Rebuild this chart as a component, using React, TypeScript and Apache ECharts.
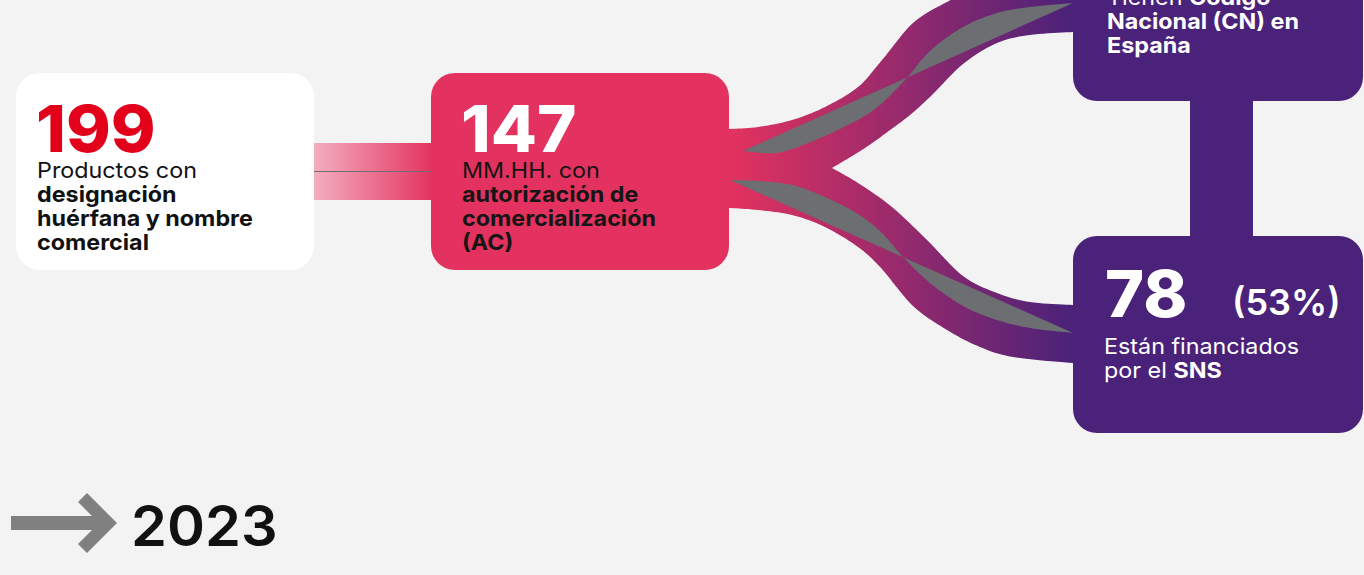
import React, { useEffect, useRef } from 'react';
import * as echarts from 'echarts';

// ---- data ----
const stageValues = [199, 147, 78];
const stageTexts = [
  '{r|Productos con}\n{b|designación}\n{b|huérfana y nombre}\n{b|comercial}',
  '{r|MM.HH. con}\n{b|autorización de}\n{b|comercialización}\n{b|(AC)}',
  '{r|Están financiados}\n{r|por el }{b|SNS}',
];
const cnText = '{r|Tienen }{b|Código}\n{b|Nacional (CN) en}\n{b|España}';
const yearLabel = '2023';

const FONT = 'Inter, "Noto Sans", sans-serif';
const PINK = '#e3325f';
const PURPLE = '#4a2279';
const GREY = '#6d6e71';

type P = [number, number];

// Catmull-Rom smoothing of a guide outline (decorative ribbon shape)
function smooth(pts: P[], steps = 10): P[] {
  const out: P[] = [];
  for (let i = 0; i < pts.length - 1; i++) {
    const p0 = pts[Math.max(0, i - 1)];
    const p1 = pts[i];
    const p2 = pts[i + 1];
    const p3 = pts[Math.min(pts.length - 1, i + 2)];
    for (let s = 0; s < steps; s++) {
      const t = s / steps, t2 = t * t, t3 = t2 * t;
      const f = (a: number, b: number, c: number, d: number) =>
        0.5 * (2 * b + (-a + c) * t + (2 * a - 5 * b + 4 * c - d) * t2 + (-a + 3 * b - 3 * c + d) * t3);
      out.push([f(p0[0], p1[0], p2[0], p3[0]), f(p0[1], p1[1], p2[1], p3[1])]);
    }
  }
  out.push(pts[pts.length - 1]);
  return out;
}

// ribbon guide outlines
const upperTopEdge: P[] = [[720, 129], [729, 129], [758, 127], [792, 120], [825, 107], [858, 87], [882, 60], [913, 23], [947, 2], [985, -15], [1030, -23], [1085, -25]];
const upperBotEdge: P[] = [[1085, 32], [1073, 32], [1030, 35], [997, 43], [963, 64], [932, 95], [910, 115], [890, 130], [865, 148], [832, 168]];
const lowerTopEdge: P[] = [[832, 168], [858, 183], [892, 207], [927, 240], [963, 276], [997, 293], [1030, 302], [1073, 305], [1085, 305]];
const lowerBotEdge: P[] = [[1085, 363], [1073, 363], [1013, 357], [980, 347], [947, 330], [913, 306], [881, 268], [858, 247], [825, 227], [792, 215], [758, 210], [729, 208], [720, 208]];
const upperTwist: P[] = [[743, 151], [777, 153], [808, 143], [842, 128], [875, 109], [905, 80], [930, 51], [963, 27], [997, 13], [1030, 7], [1073, 3]];
const lowerTwist: P[] = [[730, 180], [758, 181], [792, 185], [825, 197], [858, 214], [882, 233], [903, 257], [930, 283], [963, 306], [997, 320], [1030, 328], [1073, 333]];

function richStyles(color: string) {
  return {
    r: { fontFamily: FONT, fontSize: 22, fontWeight: 400, fill: color, lineHeight: 24 },
    b: { fontFamily: FONT, fontSize: 22, fontWeight: 700, fill: color, lineHeight: 24 },
  };
}

export default function App() {
  const ref = useRef<HTMLDivElement>(null);
  useEffect(() => {
    if (!ref.current) return;
    const chart = echarts.init(ref.current, undefined, { renderer: 'svg' });

    const ribbon: P[] = [
      ...smooth(upperTopEdge),
      ...smooth(upperBotEdge),
      ...smooth(lowerTopEdge),
      ...smooth(lowerBotEdge),
    ];
    const upLens: P[] = [...smooth(upperTwist), upperTwist[0]];
    const loLens: P[] = [...smooth(lowerTwist), lowerTwist[0]];

    const share = Math.round((stageValues[2] / stageValues[1]) * 100);
    const SX = 1.06;

    const elements: any[] = [
      // left box
      { type: 'rect', shape: { x: 16, y: 73, width: 298, height: 197, r: 24 }, style: { fill: '#ffffff' } },
      {
        type: 'rect',
        shape: { x: 314, y: 143, width: 120, height: 57 },
        style: {
          fill: new echarts.graphic.LinearGradient(0, 0, 1, 0, [
            { offset: 0, color: '#f4adbf' },
            { offset: 1, color: PINK },
          ]),
        },
      },
      { type: 'line', shape: { x1: 314, y1: 171.5, x2: 431, y2: 171.5 }, style: { stroke: GREY, lineWidth: 1 } },
      // ribbons
      {
        type: 'polygon',
        shape: { points: ribbon },
        style: {
          fill: new echarts.graphic.LinearGradient(729, 0, 1073, 0, [
            { offset: 0, color: PINK },
            { offset: 1, color: PURPLE },
          ], true),
        },
      },
      { type: 'polygon', shape: { points: upLens }, style: { fill: GREY } },
      { type: 'polygon', shape: { points: loLens }, style: { fill: GREY } },
      // middle box
      { type: 'rect', shape: { x: 431, y: 73, width: 298, height: 197, r: 24 }, style: { fill: PINK } },
      // purple boxes
      { type: 'rect', shape: { x: 1190, y: 95, width: 63, height: 146 }, style: { fill: PURPLE } },
      { type: 'rect', shape: { x: 1073, y: -96, width: 290, height: 197, r: 24 }, style: { fill: PURPLE } },
      { type: 'rect', shape: { x: 1073, y: 236, width: 290, height: 197, r: 24 }, style: { fill: PURPLE } },
      // numbers
      {
        type: 'text', x: 36, y: 128.8, scaleX: 1.06,
        style: { text: String(stageValues[0]), fontFamily: FONT, fontSize: 64, fontWeight: 800, fill: '#e2001a', verticalAlign: 'middle' },
      },
      {
        type: 'text', x: 461, y: 128.8, scaleX: 1.05,
        style: { text: String(stageValues[1]), fontFamily: FONT, fontSize: 64, fontWeight: 800, fill: '#ffffff', verticalAlign: 'middle' },
      },
      {
        type: 'text', x: 1105, y: 293.5, scaleX: 1.04,
        style: { text: String(stageValues[2]), fontFamily: FONT, fontSize: 64, fontWeight: 800, fill: '#ffffff', verticalAlign: 'middle' },
      },
      {
        type: 'text', x: 1232, y: 302.2,
        style: { text: `(${share}%)`, fontFamily: FONT, fontSize: 36, fontWeight: 600, fill: '#ffffff', verticalAlign: 'middle' },
      },
      // descriptions
      { type: 'text', x: 37, y: 157.4, scaleX: SX, style: { text: stageTexts[0], rich: richStyles('#111111'), verticalAlign: 'top' } },
      { type: 'text', x: 462, y: 157.4, scaleX: SX, style: { text: stageTexts[1], rich: richStyles('#151515'), verticalAlign: 'top' } },
      { type: 'text', x: 1104, y: 334, scaleX: SX, style: { text: stageTexts[2], rich: richStyles('#ffffff'), verticalAlign: 'top' } },
      { type: 'text', x: 1107, y: -15.6, scaleX: SX, style: { text: cnText, rich: richStyles('#ffffff'), verticalAlign: 'top' } },
      // arrow + year
      { type: 'rect', shape: { x: 11, y: 516, width: 90, height: 14 }, style: { fill: '#808080' } },
      {
        type: 'polygon',
        shape: { points: [[78, 502], [87, 493], [117, 523], [87, 553], [78, 544], [99, 523]] },
        style: { fill: '#808080' },
      },
      {
        type: 'text', x: 131, y: 525.7, scaleX: 1.03,
        style: { text: yearLabel, fontFamily: FONT, fontSize: 56, fontWeight: 600, fill: '#111111', verticalAlign: 'middle' },
      },
    ];

    chart.setOption({
      animation: false,
      backgroundColor: '#f3f3f3',
      graphic: { elements },
    });
    return () => chart.dispose();
  }, []);

  return <div ref={ref} style={{ position: 'fixed', left: 0, top: 0, width: 1364, height: 575 }} />;
}
